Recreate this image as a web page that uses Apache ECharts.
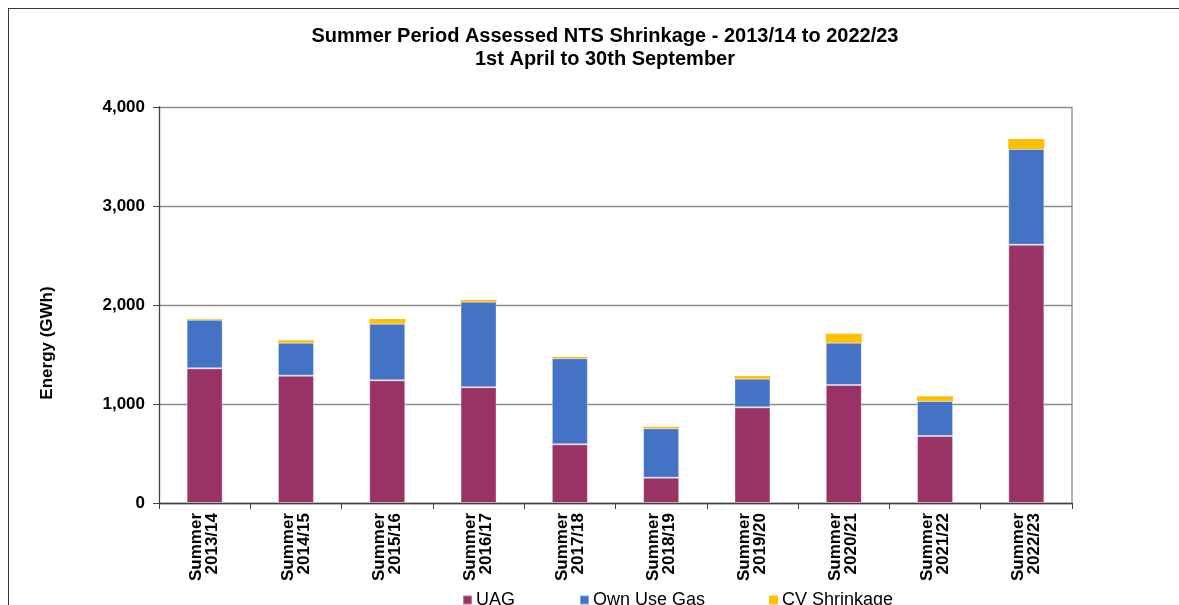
<!DOCTYPE html>
<html>
<head>
<meta charset="utf-8">
<script src="https://cdn.jsdelivr.net/npm/echarts@6/dist/echarts.min.js"></script>
<style>
html,body{margin:0;padding:0;background:#fff;}
#frame{position:absolute;left:8px;top:8px;width:1200px;height:700px;border:1px solid #3a3a3a;box-sizing:border-box;}
#chart{position:absolute;left:0;top:0;width:1179px;height:605px;}
</style>
</head>
<body>
<div id="frame"></div>
<div id="chart"></div>
<script>
const categories = ["Summer\n2013/14","Summer\n2014/15","Summer\n2015/16","Summer\n2016/17","Summer\n2017/18","Summer\n2018/19","Summer\n2019/20","Summer\n2020/21","Summer\n2021/22","Summer\n2022/23"];
const uag        = [1360, 1286, 1239, 1169, 593, 256, 966, 1192, 677, 2609];
const ownUseGas  = [490, 333, 572, 864, 869, 498, 290, 427, 353, 967];
const cvShrink   = [8, 24, 48, 18, 13, 17, 27, 91, 48, 101];
const yTicks = [0, 1000, 2000, 3000, 4000];

const chart = echarts.init(document.getElementById('chart'), null, {renderer:'canvas'});
const font = '"Liberation Sans", Arial, sans-serif';
chart.setOption({
  animation:false,
  backgroundColor:'transparent',
  title:{
    text:'Summer Period Assessed NTS Shrinkage - 2013/14 to 2022/23\n1st April to 30th September',
    left:600, top:20, textAlign:'center',
    textStyle:{fontFamily:font,fontWeight:'bold',fontSize:20,color:'#000',lineHeight:23}
  },
  grid:{left:159, right:107, top:107, bottom:102, containLabel:false},
  legend:{
    bottom:-9, left:457, itemGap:64, itemWidth:9, itemHeight:9, icon:'rect',
    data:['UAG','Own Use Gas','CV Shrinkage'],
    textStyle:{fontFamily:font,fontSize:18,color:'#000',padding:[0,0,0,-1]}
  },
  graphic:[
    {type:'text', x:47, y:343, rotation:Math.PI/2,
     style:{text:'Energy (GWh)', textAlign:'center', textVerticalAlign:'middle', font:'bold 17px "Liberation Sans", Arial, sans-serif', fill:'#000'}},
    {type:'line', shape:{x1:1072, y1:107, x2:1072, y2:503}, style:{stroke:'#8c8c8c', lineWidth:1.3}}
  ],
  xAxis:{
    type:'category', data:categories,
    axisLine:{lineStyle:{color:'#404040',width:1.3}},
    axisTick:{show:true, alignWithLabel:false, length:6, lineStyle:{color:'#404040'}},
    axisLabel:{rotate:90, interval:0, margin:10, fontFamily:font, fontWeight:'bold', fontSize:17, color:'#000', lineHeight:16, align:'right', verticalAlign:'middle'}
  },
  yAxis:{
    type:'value', min:0, max:4000, interval:1000,
    axisLine:{show:true, lineStyle:{color:'#404040',width:1.3}},
    axisTick:{show:true, length:6, lineStyle:{color:'#404040'}},
    splitLine:{show:true, lineStyle:{color:'#8c8c8c',width:1.3}},
    axisLabel:{margin:14, fontFamily:font, fontWeight:'bold', fontSize:17, color:'#000',
      formatter:v=> yTicks.includes(v) ? v.toLocaleString('en-US') : ''}
  },
  series:[
    {name:'UAG', type:'bar', stack:'s', data:uag, barWidth:36, itemStyle:{color:'#993366', borderColor:'rgba(255,255,255,0.35)', borderWidth:1}},
    {name:'Own Use Gas', type:'bar', stack:'s', data:ownUseGas, barWidth:36, itemStyle:{color:'#4472C4', borderColor:'rgba(255,255,255,0.35)', borderWidth:1}},
    {name:'CV Shrinkage', type:'bar', stack:'s', data:cvShrink, barWidth:36, itemStyle:{color:'#FFC000'}}
  ]
});
</script>
</body>
</html>
